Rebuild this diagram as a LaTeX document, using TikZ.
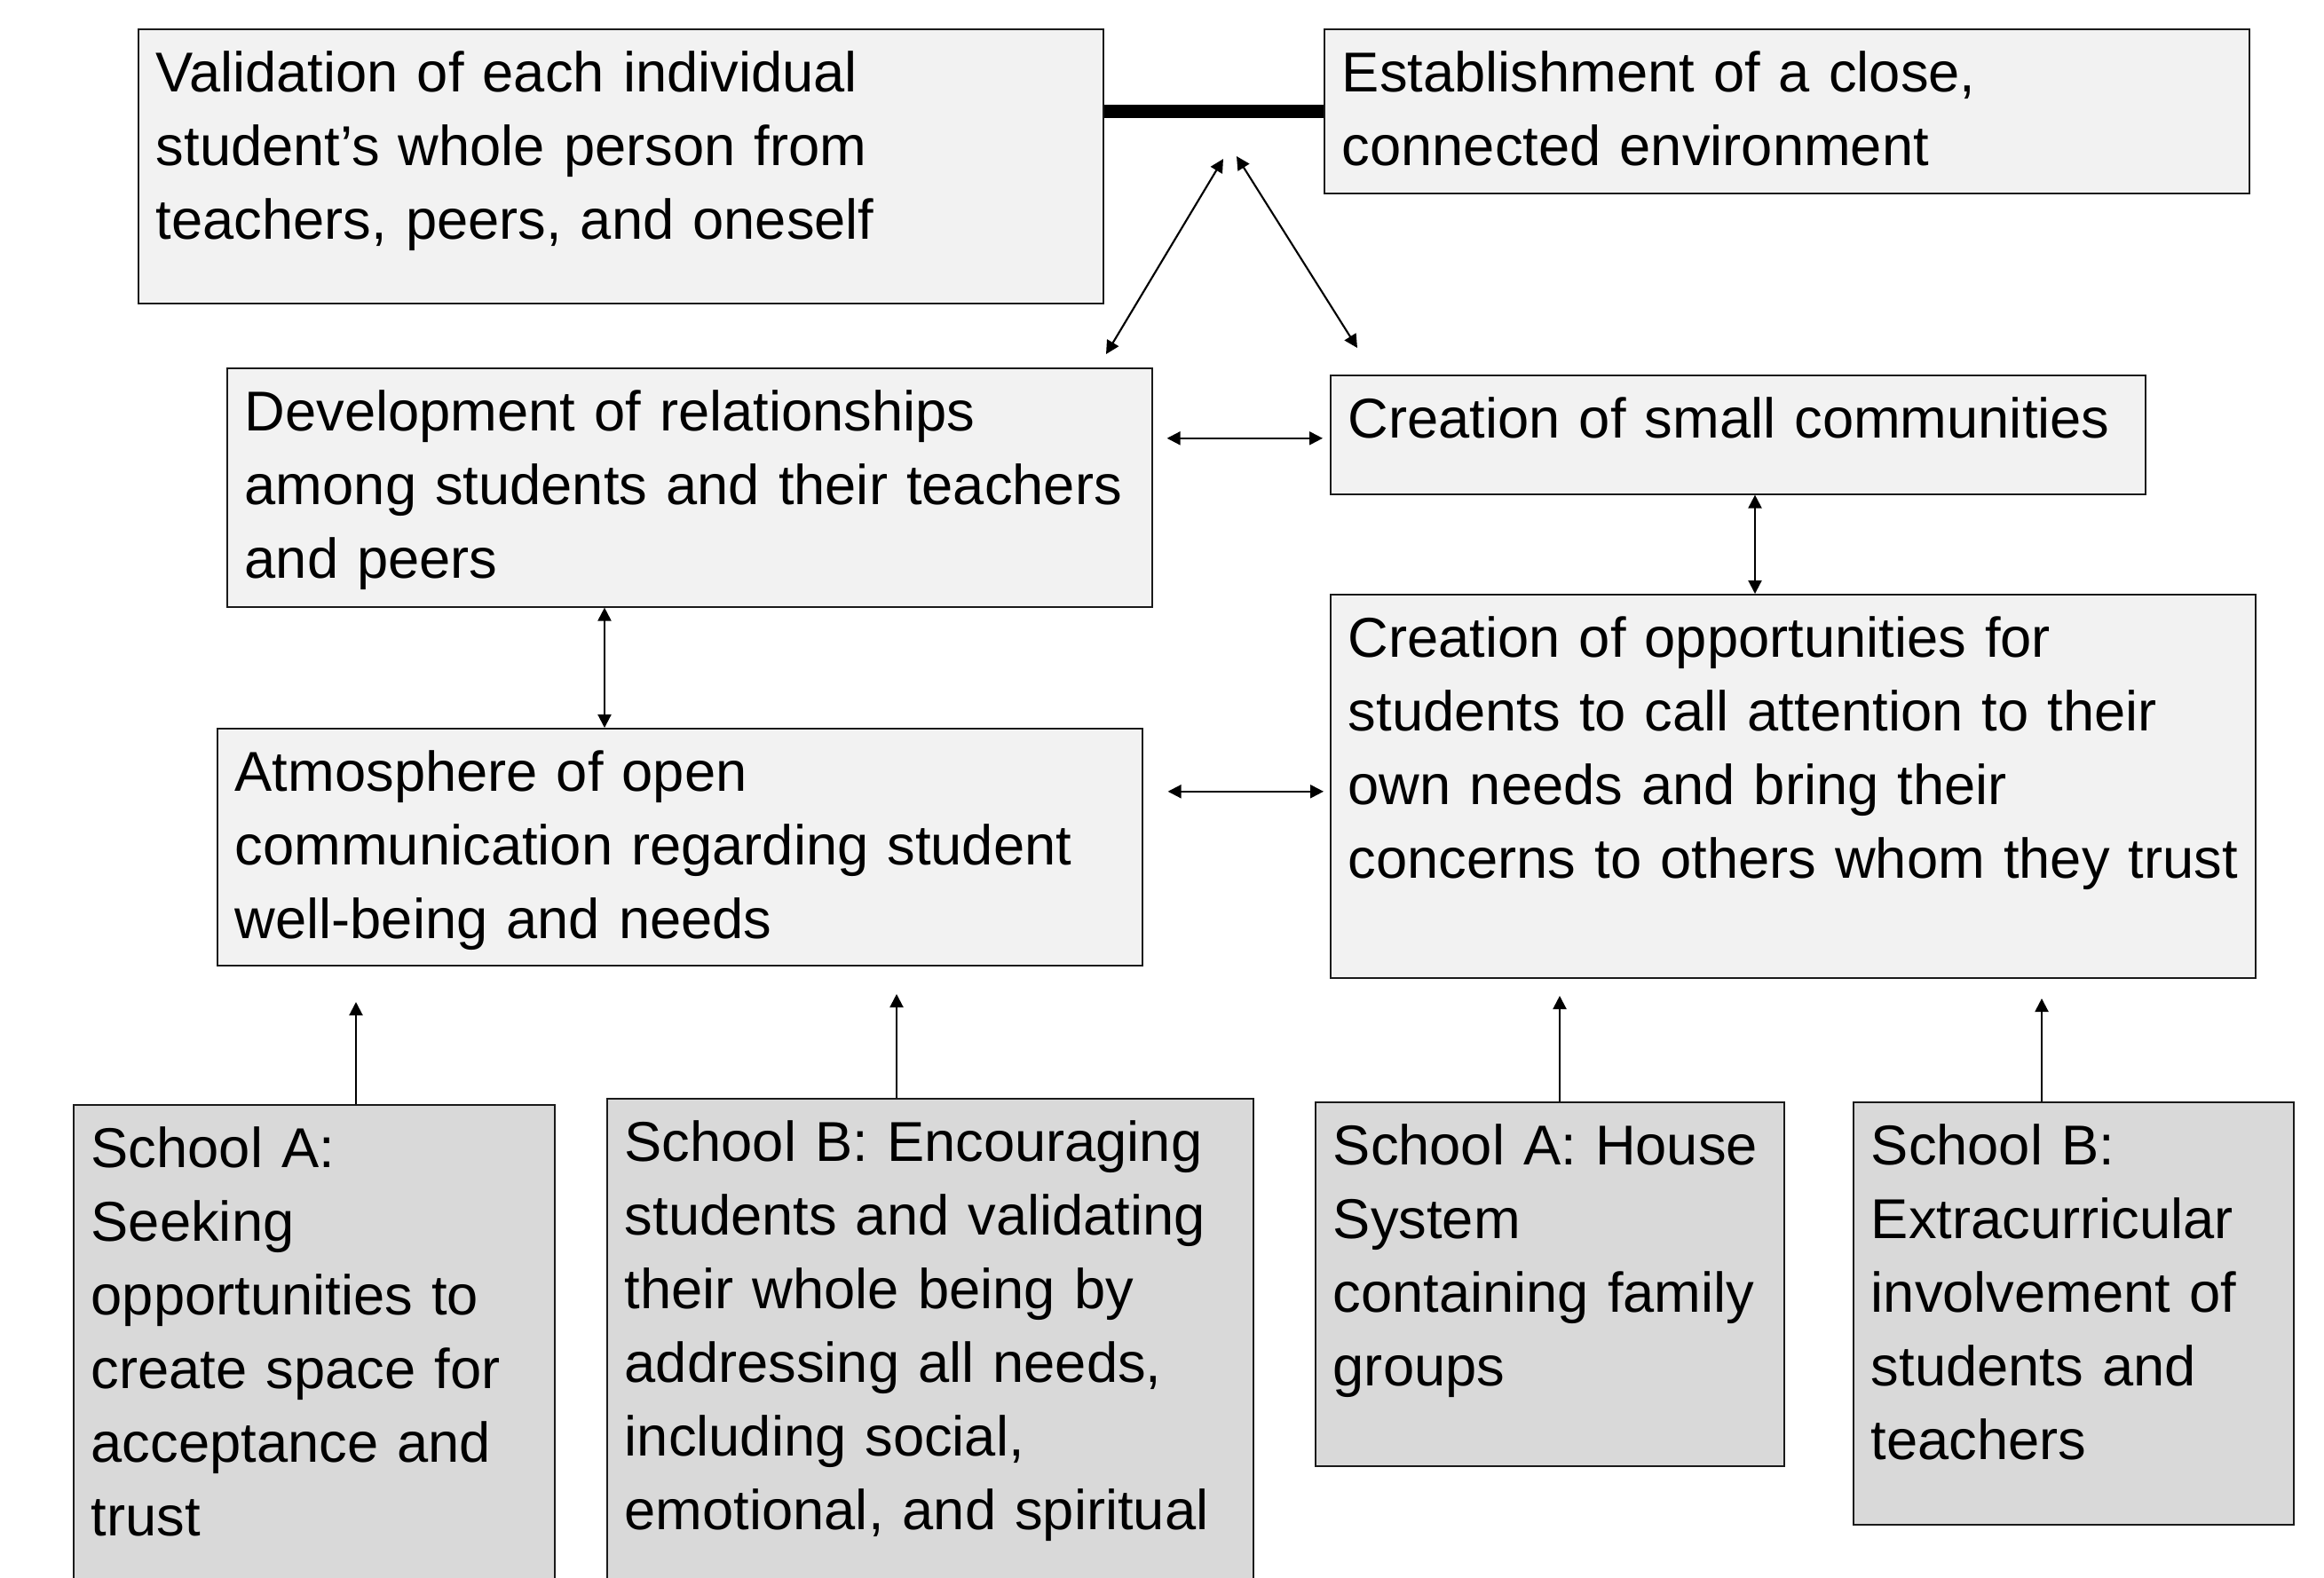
\documentclass[tikz,border=0pt]{standalone}
\usepackage{fontspec}
\setmainfont{Liberation Sans}
\usepackage{xcolor}
\usetikzlibrary{arrows.meta, positioning, calc}
\definecolor{panelgray}{HTML}{F2F2F2}
\definecolor{schoolgray}{HTML}{D9D9D9}
\definecolor{edgegray}{HTML}{1A1A1A}
\tikzset{
    box/.style={
        rectangle, anchor=north west, draw=edgegray, line width=0.45pt,
        fill=panelgray, align=left, inner xsep=0.2cm, inner ysep=0pt,
        text height=0.71cm, font=\fontsize{18pt}{23.6pt}\selectfont
    },
    schoolbox/.style={box, fill=schoolgray},
    twoway/.style={{Triangle[length=0.15cm, width=0.15cm]}-{Triangle[length=0.15cm, width=0.15cm]}, line width=0.6pt},
    oneway/.style={-{Triangle[length=0.15cm, width=0.15cm]}, line width=0.6pt},
    link/.style={line width=4.3pt},
}

\begin{document}
\begin{tikzpicture}
    \useasboundingbox[fill=white] (0,0) rectangle (26.18,-17.77);

    % outcomes
    \node[box, text width=10.47cm, text depth=2.38cm] (val) at (1.55,-0.32)
        {Validation of each individual\\student’s whole person from\\teachers, peers, and oneself};
    \node[box, text width=10.02cm, text depth=1.14cm] (est) at (14.91,-0.32)
        {Establishment of a close,\\connected environment};
    \draw[link] (val.east |- est.west) -- (est.west);

    % middle layer
    \node[box, text width=10.02cm, text depth=1.98cm] (dev) at (2.55,-4.14)
        {Development of relationships\\among students and their teachers\\and peers};
    \node[box, text width=8.78cm, text depth=0.63cm] (comm) at (14.98,-4.22)
        {Creation of small communities};
    \node[box, text width=10.02cm, text depth=3.61cm] (opp) at (14.98,-6.69)
        {Creation of opportunities for\\students to call attention to their\\own needs and bring their\\\mbox{concerns to others whom they trust}};
    \node[box, text width=10.02cm, text depth=1.96cm] (atm) at (2.44,-8.20)
        {Atmosphere of open\\communication regarding student\\well-being and needs};

    % school practices
    \node[schoolbox, text width=5.02cm, text depth=4.90cm] (sa1) at (0.82,-12.44)
        {School A:\\Seeking\\opportunities to\\create space for\\acceptance and\\trust};
    \node[schoolbox, text width=6.88cm, text depth=4.98cm] (sb1) at (6.83,-12.37)
        {School B: Encouraging\\students and validating\\their whole being by\\addressing all needs,\\including social,\\emotional, and spiritual};
    \node[schoolbox, text width=4.88cm, text depth=3.39cm] (sa2) at (14.81,-12.41)
        {School A: House\\System\\containing family\\groups};
    \node[schoolbox, text width=4.56cm, text depth=4.05cm] (sb2) at (20.87,-12.41)
        {School B:\\Extracurricular\\involvement of\\students and\\teachers};

    % links between layers
    \coordinate (apexL) at (13.78,-1.79);
    \coordinate (apexR) at (13.93,-1.76);
    \coordinate (devtip) at (12.46,-3.99);
    \coordinate (commtip) at (15.29,-3.92);
    \draw[twoway] (devtip) -- (apexL);
    \draw[twoway] (commtip) -- (apexR);

    \draw[twoway, shorten <=0.16cm, shorten >=0.08cm] ($(dev.east |- comm.west)+(0,-0.04)$) -- ($(comm.west)+(0,-0.04)$);
    \draw[twoway, shorten <=0.28cm, shorten >=0.07cm] ($(atm.east |- opp.west)+(0,-0.06)$) -- ($(opp.west)+(0,-0.06)$);
    \draw[twoway] ($(comm.south west)+(4.79,0)$) -- ($(opp.north west)+(4.79,0)$);
    \draw[twoway] ($(dev.south west)+(4.26,0)$) -- ($(atm.north west)+(4.37,0)$);

    \draw[oneway] ($(sa1.north west)+(3.19,0)$) -- ++(0,1.15);
    \draw[oneway] ($(sb1.north west)+(3.27,0)$) -- ++(0,1.17);
    \draw[oneway] ($(sa2.north west)+(2.76,0)$) -- ++(0,1.19);
    \draw[oneway] ($(sb2.north west)+(2.13,0)$) -- ++(0,1.16);
\end{tikzpicture}
\end{document}
